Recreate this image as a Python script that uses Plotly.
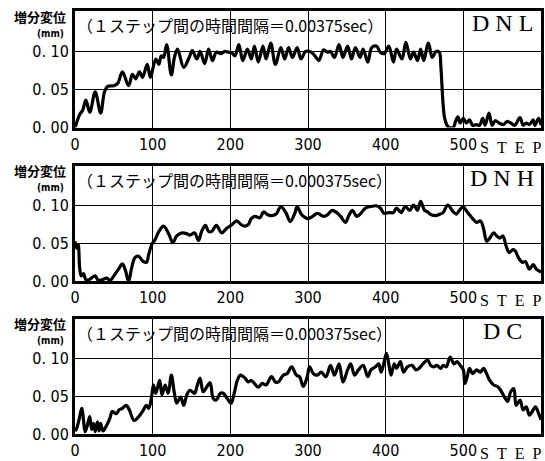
import plotly.graph_objects as go

# ---------------- data ----------------
dnl_step = [0, 1, 6, 10, 14, 19, 26, 33, 38, 42, 50, 55, 61, 69, 74, 78, 83, 87, 93, 97,
            104, 108, 111, 114, 118, 124, 128, 132, 140, 147, 151, 157, 161, 167, 172, 177,
            182, 188, 193, 197, 202, 206, 211, 216, 222, 227, 231, 236, 242, 246, 252, 258,
            265, 270, 275, 280, 286, 291, 297, 304, 309, 314, 320, 325, 329, 334, 340, 345,
            351, 356, 361, 367, 371, 377, 382, 388, 393, 398, 404, 410, 414, 421, 426, 432,
            436, 441, 445, 449, 455, 460, 465, 469, 471, 472.5, 474, 476, 479, 482, 487, 490,
            493, 496, 500, 504, 508, 512, 517, 521, 525, 528, 533, 537, 541, 546, 552, 556,
            561, 566, 573, 577, 581, 585, 590, 592, 597, 600]
dnl_val = [0.0, 0.003, 0.017, 0.023, 0.036, 0.02, 0.047, 0.019, 0.047, 0.054, 0.055, 0.058,
           0.073, 0.055, 0.07, 0.064, 0.073, 0.066, 0.083, 0.066, 0.09, 0.083, 0.094, 0.092,
           0.109, 0.069, 0.092, 0.103, 0.079, 0.092, 0.101, 0.09, 0.10, 0.084, 0.103, 0.088,
           0.099, 0.097, 0.10, 0.099, 0.098, 0.094, 0.109, 0.088, 0.103, 0.09, 0.107, 0.086,
           0.107, 0.09, 0.111, 0.083, 0.105, 0.09, 0.105, 0.092, 0.105, 0.09, 0.10, 0.099,
           0.094, 0.088, 0.102, 0.099, 0.10, 0.092, 0.109, 0.092, 0.107, 0.09, 0.105, 0.092,
           0.103, 0.086, 0.105, 0.107, 0.099, 0.097, 0.107, 0.086, 0.103, 0.09, 0.112, 0.09,
           0.099, 0.088, 0.103, 0.088, 0.111, 0.092, 0.10, 0.099, 0.081, 0.055, 0.03, 0.012,
           0.003, 0.0, 0.0, 0.008, 0.014, 0.006, 0.012, 0.006, 0.01, 0.003, 0.004, 0.003,
           0.012, 0.003, 0.019, 0.003, 0.009, 0.006, 0.004, 0.008, 0.006, 0.003, 0.013, 0.003,
           0.006, 0.004, 0.01, 0.003, 0.012, 0.003]

dnh_step = [0, 2, 4, 6, 8, 11, 14, 18, 21, 26, 30, 35, 41, 45, 50, 56, 61, 65, 69, 73, 77,
            82, 87, 92, 95, 99, 103, 108, 114, 121, 126, 131, 138, 144, 148, 154, 159, 163,
            168, 172, 176, 182, 189, 195, 202, 208, 214, 218, 223, 227, 232, 238, 243, 248,
            254, 259, 265, 272, 277, 283, 286, 292, 300, 306, 312, 320, 325, 331, 337, 342,
            348, 353, 357, 363, 368, 374, 381, 388, 393, 398, 404, 410, 414, 420, 425, 431,
            436, 441, 445, 450, 454, 457, 464, 470, 474, 480, 487, 491, 495, 500, 504, 508,
            512, 517, 522, 526, 530, 534, 539, 543, 547, 551, 555, 559, 564, 567, 571, 576,
            580, 585, 590, 594, 600]
dnh_val = [0.053, 0.044, 0.049, 0.018, 0.007, 0.01, 0.002, 0.002, 0.004, 0.007, 0.001, 0.002,
           0.004, 0.001, 0.007, 0.016, 0.023, 0.014, 0.0, 0.018, 0.031, 0.033, 0.027, 0.025,
           0.036, 0.049, 0.055, 0.066, 0.073, 0.062, 0.051, 0.06, 0.064, 0.063, 0.061, 0.064,
           0.054, 0.066, 0.074, 0.066, 0.066, 0.074, 0.064, 0.07, 0.075, 0.08, 0.075, 0.073,
           0.075, 0.083, 0.086, 0.084, 0.092, 0.088, 0.087, 0.089, 0.099, 0.09, 0.079, 0.09,
           0.099, 0.088, 0.083, 0.086, 0.09, 0.086, 0.088, 0.094, 0.091, 0.086, 0.078, 0.088,
           0.094, 0.086, 0.09, 0.097, 0.099, 0.10, 0.097, 0.09, 0.091, 0.091, 0.097, 0.091,
           0.099, 0.094, 0.101, 0.094, 0.106, 0.094, 0.092, 0.089, 0.087, 0.089, 0.091, 0.101,
           0.092, 0.089, 0.094, 0.099, 0.093, 0.088, 0.083, 0.078, 0.08, 0.07, 0.053, 0.057,
           0.064, 0.06, 0.057, 0.06, 0.047, 0.038, 0.042, 0.04, 0.031, 0.025, 0.026, 0.016,
           0.022, 0.016, 0.012]

dc_step = [0, 2, 5, 8, 9, 11, 13, 16, 19, 21.5, 24, 26, 29, 31, 33, 36, 41, 45, 48, 53, 57,
           61, 66, 70, 76, 82, 87, 92, 95, 99, 101, 104, 109, 112, 116, 120, 124, 128, 131,
           136, 140, 144, 148, 154, 157, 161, 165, 170, 174, 178, 182, 187, 191, 196, 201,
           205, 209, 213, 219, 223, 227, 231, 236, 241, 246, 253, 258, 262, 268, 273, 279,
           285, 289, 294, 299, 302, 307, 312, 317, 323, 329, 334, 340, 345, 351, 355, 360,
           365, 371, 377, 381, 387, 391, 394, 397, 401, 404, 407, 411, 414, 419, 423, 428,
           434, 439, 443, 448, 454, 458, 462, 466, 471, 474, 478, 483, 488, 492, 496, 500,
           502, 505, 508, 512, 517, 522, 526, 530, 534, 539, 544, 548, 553, 557, 561, 565,
           568, 573, 577, 581, 585, 590, 593, 597, 600]
dc_val = [0.004, 0.007, 0.018, 0.032, 0.034, 0.018, 0.003, 0.012, 0.023, 0.006, 0.014, 0.003,
          0.016, 0.004, 0.014, 0.004, 0.012, 0.021, 0.03, 0.027, 0.032, 0.034, 0.038, 0.032,
          0.018, 0.023, 0.03, 0.038, 0.034, 0.052, 0.065, 0.054, 0.071, 0.052, 0.065, 0.054,
          0.078, 0.054, 0.041, 0.049, 0.038, 0.052, 0.058, 0.054, 0.063, 0.074, 0.056, 0.063,
          0.068, 0.047, 0.045, 0.054, 0.054, 0.047, 0.041, 0.054, 0.071, 0.078, 0.074, 0.069,
          0.071, 0.067, 0.062, 0.067, 0.065, 0.076, 0.069, 0.069, 0.078, 0.08, 0.089, 0.078,
          0.076, 0.063, 0.076, 0.089, 0.08, 0.078, 0.082, 0.076, 0.091, 0.078, 0.093, 0.069,
          0.085, 0.093, 0.078, 0.085, 0.091, 0.076, 0.085, 0.089, 0.093, 0.082, 0.091, 0.107,
          0.093, 0.078, 0.093, 0.087, 0.096, 0.082, 0.089, 0.091, 0.085, 0.087, 0.093, 0.098,
          0.091, 0.089, 0.091, 0.087, 0.091, 0.089, 0.102, 0.093, 0.096, 0.091, 0.085, 0.067,
          0.076, 0.087, 0.08, 0.085, 0.082, 0.087, 0.08, 0.071, 0.065, 0.063, 0.058, 0.049,
          0.043, 0.056, 0.06, 0.038, 0.045, 0.032, 0.036, 0.025, 0.032, 0.036, 0.027, 0.019]

series_names = ["D N L", "D N H", "D C"]
interval_texts = ["（１ステップ間の時間間隔＝0.00375sec）",
                  "（１ステップ間の時間間隔＝0.000375sec）",
                  "（１ステップ間の時間間隔＝0.000375sec）"]
x_tick_vals = [0, 100, 200, 300, 400, 500]
x_tick_text = ["0", "100", "200", "300", "400", "500"]
y_tick_vals = [0, 0.05, 0.10]
y_tick_text = ["0. 00", "0. 05", "0. 10"]
y_label = "増分変位"
y_unit = "(mm)"
x_label = "S\u2002T\u2002E\u2002P"

# ---------------- figure ----------------
steps = [dnl_step, dnh_step, dc_step]
vals = [dnl_val, dnh_val, dc_val]
domains = [[0.7244, 1.0], [0.3612, 0.634], [0.0, 0.2728]]

num_font = dict(family="Liberation Sans Narrow, DejaVu Sans Condensed, Arial Narrow, sans-serif",
                size=16, color="black")
cjk = "Noto Sans CJK JP, sans-serif"
serif = "Liberation Serif, DejaVu Serif, serif"

fig = go.Figure()
layout = dict(
    width=545, height=461,
    margin=dict(l=75, r=1, t=11, b=20),
    paper_bgcolor="white", plot_bgcolor="white",
    showlegend=False,
    annotations=[],
)

for i in range(3):
    n = "" if i == 0 else str(i + 1)
    fig.add_trace(go.Scatter(
        x=steps[i], y=vals[i], mode="lines",
        line=dict(color="black", width=3.2, shape="spline", smoothing=1.0),
        xaxis="x" + n, yaxis="y" + n, hoverinfo="skip",
    ))
    layout["xaxis" + n] = dict(
        domain=[0, 1], anchor="y" + n, range=[0, 600],
        tickvals=x_tick_vals, ticktext=x_tick_text, tickfont=num_font,
        showgrid=True, gridcolor="black", gridwidth=1.2,
        showline=True, linecolor="black", linewidth=2.8, mirror=True,
        zeroline=False, ticks="", ticklen=0,
    )
    layout["yaxis" + n] = dict(
        domain=domains[i], anchor="x" + n, range=[0, 0.153],
        tickvals=y_tick_vals, ticktext=y_tick_text, tickfont=num_font,
        showgrid=True, gridcolor="black", gridwidth=1.2,
        showline=True, linecolor="black", linewidth=2.8, mirror=True,
        zeroline=False, ticks="", ticklen=0,
    )
    yd = "y" + n + " domain"
    xd = "x" + n + " domain"
    layout["annotations"] += [
        dict(text="<b>" + y_label + "</b>", xref="paper", yref=yd, x=0, y=1,
             xanchor="right", yanchor="middle", xshift=-7, yshift=-5,
             showarrow=False, font=dict(family=cjk, size=13, color="black")),
        dict(text="<b>" + y_unit + "</b>", xref="paper", yref=yd, x=0, y=1,
             xanchor="right", yanchor="middle", xshift=-9, yshift=-22,
             showarrow=False, font=dict(family=num_font["family"], size=10, color="black")),
        dict(text=interval_texts[i], xref=xd, yref=yd, x=0, y=1,
             xanchor="left", yanchor="middle", xshift=0, yshift=-14,
             showarrow=False, font=dict(family=cjk, size=16, color="black")),
        dict(text=series_names[i], xref="x" + n, yref=yd, x=550, y=1,
             xanchor="center", yanchor="middle", yshift=-12,
             showarrow=False, font=dict(family=serif, size=24, color="black")),
        dict(text=x_label, xref=xd, yref=yd, x=1, y=0,
             xanchor="right", yanchor="top", xshift=2, yshift=-9,
             showarrow=False, font=dict(family=serif, size=16, color="black")),
    ]

fig.update_layout(**layout)
fig.write_html("out.html", config={"displayModeBar": False},
               post_script="document.body.style.margin='0';document.body.style.padding='0';")
